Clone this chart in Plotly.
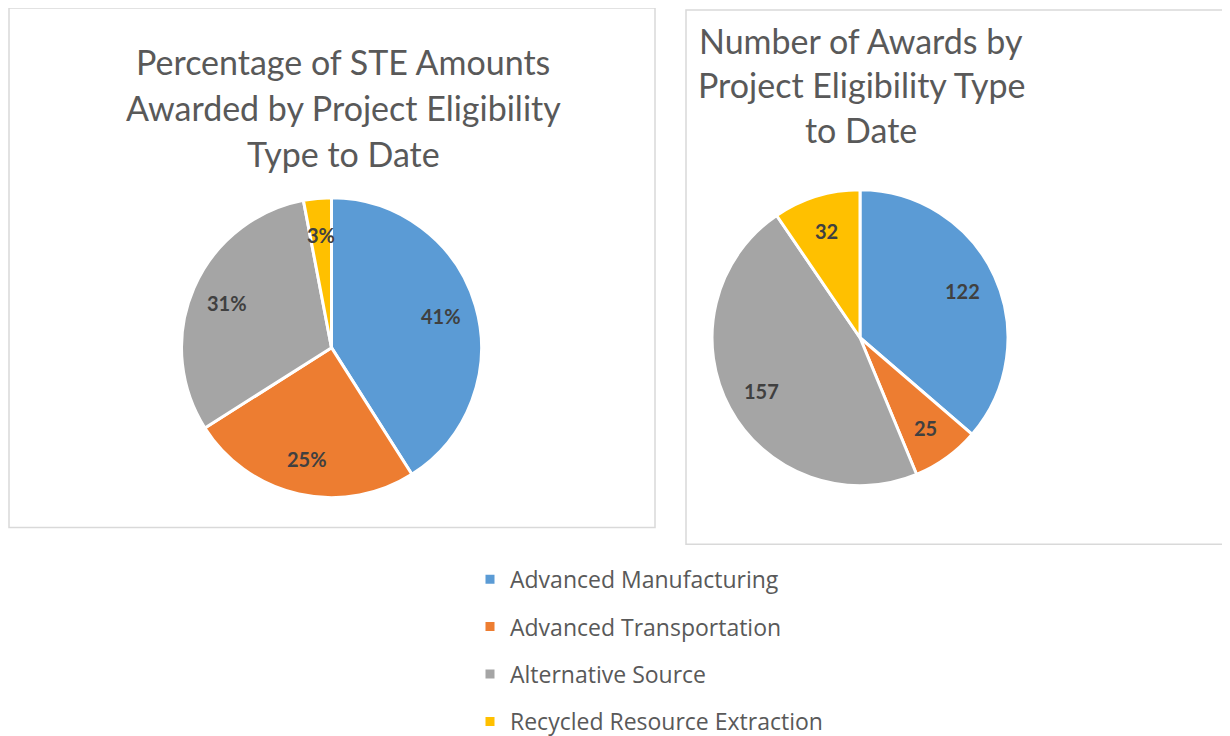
import math
import plotly.graph_objects as go

W, H = 1230, 736
OFF = 8  # page body margin

categories = ["Advanced Manufacturing", "Advanced Transportation",
              "Alternative Source", "Recycled Resource Extraction"]
colors = ["#5B9BD5", "#ED7D31", "#A5A5A5", "#FFC000"]
pct_amounts = [41, 25, 31, 3]
award_counts = [122, 25, 157, 32]
pct_labels = ["41%", "25%", "31%", "3%"]
count_labels = [str(v) for v in award_counts]

title_left = ["Percentage of STE Amounts", "Awarded by Project Eligibility", "Type to Date"]
title_right = ["Number of Awards by", "Project Eligibility Type", "to Date"]


def px(x):
    return (x - OFF) / W


def py(y):
    return 1 - (y - OFF) / H


# pie geometry (screen pixels)
LEFT = dict(x0=181, x1=482, y0=199, y1=501)
RIGHT = dict(x0=712, x1=1008, y0=191, y1=489)
LABEL_R = 0.76

fig = go.Figure()

for vals, g in ((pct_amounts, LEFT), (award_counts, RIGHT)):
    fig.add_trace(go.Pie(
        labels=categories, values=vals, sort=False, direction="clockwise",
        rotation=0, marker=dict(colors=colors, line=dict(color="white", width=3)),
        textinfo="none", showlegend=False, hoverinfo="label+value",
        domain=dict(x=[px(g["x0"]), px(g["x1"])], y=[py(g["y1"]), py(g["y0"])]),
    ))

# legend entries (one per category)
for i, (cat, col) in enumerate(zip(categories, colors)):
    fig.add_trace(go.Scatter(
        x=[None], y=[None], mode="markers", name=cat,
        marker=dict(symbol="square", size=9, color=col),
        legendgroup=f"g{i}", showlegend=True,
    ))

annotations = []
title_font = dict(family="Lato", size=34, color="#595959")
for i, line in enumerate(title_left):
    annotations.append(dict(x=px(343), y=py(62 + 46 * i), xref="paper", yref="paper",
                            text=line, showarrow=False, xanchor="center", yanchor="middle",
                            font=title_font))
for i, line in enumerate(title_right):
    annotations.append(dict(x=px(861), y=py(41 + 44.5 * i), xref="paper", yref="paper",
                            text=line, showarrow=False, xanchor="center", yanchor="middle",
                            font=title_font))

# data labels placed along each slice's bisector
label_font = dict(family="Lato", size=20, color="#404040", weight="bold")
for vals, texts, g in ((pct_amounts, pct_labels, LEFT), (award_counts, count_labels, RIGHT)):
    cx = (g["x0"] + g["x1"]) / 2
    cy = (g["y0"] + g["y1"]) / 2
    r = min(g["x1"] - g["x0"], g["y1"] - g["y0"]) / 2
    total = sum(vals)
    cum = 0
    for v, t in zip(vals, texts):
        mid = (cum + v / 2) / total * 2 * math.pi
        cum += v
        lx = cx + LABEL_R * r * math.sin(mid)
        ly = cy - LABEL_R * r * math.cos(mid)
        annotations.append(dict(x=px(lx), y=py(ly), xref="paper", yref="paper", text=t,
                                showarrow=False, xanchor="center", yanchor="middle",
                                font=label_font))

shapes = [
    dict(type="rect", xref="paper", yref="paper", x0=px(9), x1=px(655), y0=py(531), y1=py(8),
         line=dict(color="#D9D9D9", width=1.5), fillcolor="rgba(0,0,0,0)"),
    dict(type="rect", xref="paper", yref="paper", x0=px(686), x1=px(1250), y0=py(548), y1=py(10),
         line=dict(color="#D9D9D9", width=1.5), fillcolor="rgba(0,0,0,0)"),
]

fig.update_layout(
    width=W, height=H, margin=dict(l=0, r=0, t=0, b=0),
    paper_bgcolor="white", plot_bgcolor="white",
    xaxis=dict(visible=False), yaxis=dict(visible=False),
    annotations=annotations, shapes=shapes,
    legend=dict(x=px(470), y=py(561.5), xanchor="left", yanchor="top",
                font=dict(family="Open Sans", size=23, color="#595959"),
                traceorder="grouped", tracegroupgap=14.5, bgcolor="rgba(0,0,0,0)"),
)

fig.write_html("out.html")
